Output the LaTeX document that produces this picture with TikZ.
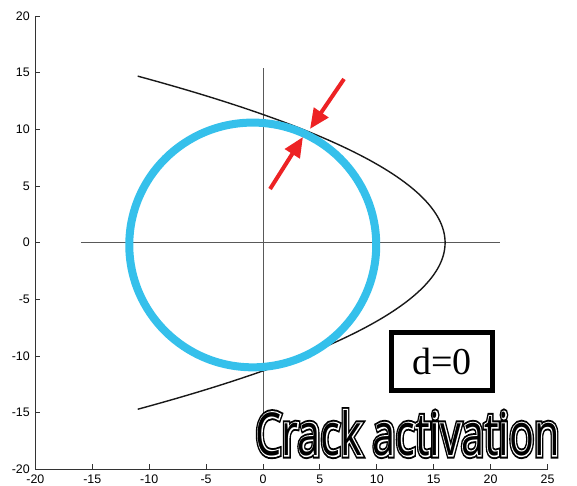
\documentclass[tikz,border=0pt]{standalone}
\usepackage{fontspec}
\setmainfont{Liberation Serif}
\setsansfont{Liberation Sans}
\newfontfamily\crackfont{Open Sans}
\newfontfamily\crackouter{Open Sans}[FakeBold=11]
\newfontfamily\crackinner{Open Sans}[FakeBold=4.5]
\usetikzlibrary{arrows.meta}
\definecolor{ringblue}{RGB}{53,192,235}
\definecolor{arrowred}{RGB}{237,34,36}
\newcommand{\cracktext}[1]{\resizebox{152pt}{22.5pt}{#1Crack activation}}
\tikzset{
  axisline/.style={line width=0.55pt, black!80},
  tick/.style={line width=0.45pt, black!80},
  ticklab/.style={font=\sffamily\fontsize{6.2}{7}\selectfont, inner sep=0pt},
  guide/.style={line width=0.5pt, black!65},
  curve/.style={line width=0.7pt, black!90},
  ring/.style={line width=4pt, ringblue},
  redarrow/.style={line width=2pt, arrowred, -{Triangle[length=10pt,width=8.5pt]}},
  dbox/.style={draw, line width=2.6pt, minimum width=50.5pt, minimum height=29pt, inner sep=0pt, font=\fontsize{19}{22}\selectfont},
  crack/.style={inner sep=0pt, anchor=south}
}
\begin{document}
\begin{tikzpicture}[x=5.69pt,y=5.665pt]
\useasboundingbox (-23.11,-21.39) rectangle (27.59,21.42);
% guide lines
\coordinate (hl) at (-16,0); \coordinate (hr) at (20.8,0);
\coordinate (vt) at (0,15.4); \coordinate (vb) at (0,-15.4);
\draw[guide] (hl) -- (hr);
\draw[guide] (vt) -- (vb);
% axes
\coordinate (o) at (-20,-20); \coordinate (yt) at (-20,20); \coordinate (xr) at (25,-20);
\draw[axisline] (yt) -- (o) -- (xr);
\foreach \x in {-20,-15,...,25} {
  \draw[tick] (\x,-20) -- ++(0,2.5pt);
  \node[ticklab, anchor=north] (xl\x) at ([yshift=-2.6pt]\x,-20) {\ifnum\x<0 -\the\numexpr-\x\relax\else\x\fi};
}
\foreach \y in {-20,-15,...,20} {
  \draw[tick] (-20,\y) -- ++(2.5pt,0);
  \node[ticklab, anchor=east] (yl\y) at ([xshift=-2.6pt]-20,\y) {\ifnum\y<0 -\the\numexpr-\y\relax\else\y\fi};
}
% parabola
\draw[curve] plot[domain=-14.7:14.7, samples=120, variable=\t] ({16-\t*\t/8},\t);
% circle
\node[draw=none, inner sep=0pt] (c) at (-0.9,-0.2) {};
\draw[ring] (c) ellipse [x radius=10.85, y radius=10.8];
% arrows
\coordinate (a1s) at (7.12,14.45); \coordinate (a1e) at (4.13,10.04);
\coordinate (a2s) at (0.62,4.74); \coordinate (a2e) at (3.51,9.33);
\draw[redarrow] (a1s) -- (a1e);
\draw[redarrow] (a2s) -- (a2e);
% d=0 box
\node[dbox] (d) at (15.73,-10.49) {d=0};
% Crack activation with double outline
\coordinate (cp) at (12.7,-18.85);
\node[crack, text=black] (cr1) at (cp) {\cracktext{\crackouter}};
\node[crack, text=white] (cr2) at (cp) {\special{pdf:literal 1 1 1 RG}\cracktext{\crackinner}};
\node[crack, text=black] (cr) at (cp) {\cracktext{\crackfont}};
\end{tikzpicture}
\end{document}
